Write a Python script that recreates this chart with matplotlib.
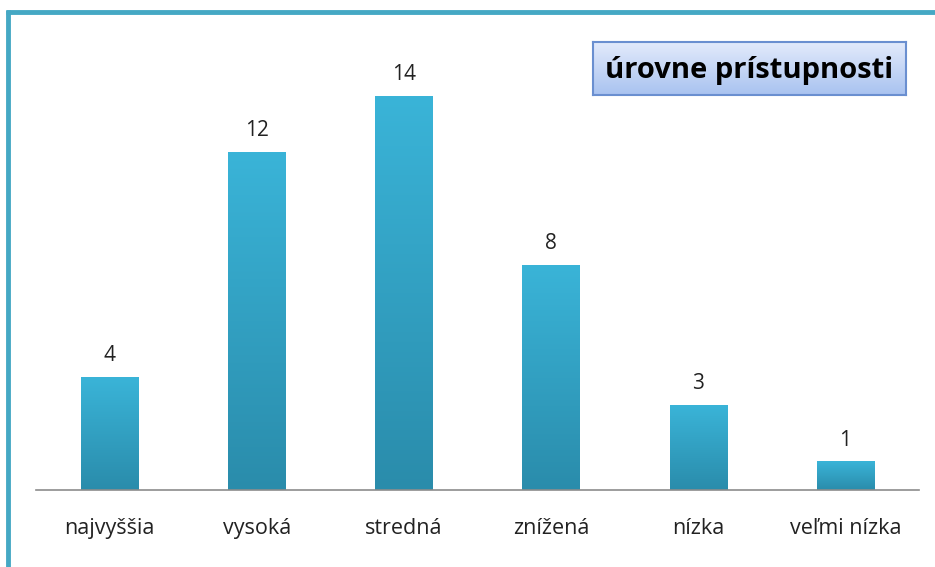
import numpy as np
import matplotlib
matplotlib.use('Agg')
import matplotlib.pyplot as plt
import matplotlib.patches as patches
from matplotlib.colors import LinearSegmentedColormap

categories = ['najvyššia', 'vysoká', 'stredná', 'znížená', 'nízka', 'veľmi nízka']
values = [4, 12, 14, 8, 3, 1]
title = 'úrovne prístupnosti'

plt.rcParams['font.family'] = ['Open Sans', 'DejaVu Sans']

fig = plt.figure(figsize=(9.35, 5.67), dpi=100)
fig.patch.set_facecolor('white')

# ram okolo grafu (len vlavo a hore)
fig.add_artist(plt.Line2D([8/935, 8/935], [0, 1 - 10/567], color='#45a8c4', lw=3.5,
                          transform=fig.transFigure, solid_capstyle='butt'))
fig.add_artist(plt.Line2D([6/935, 1], [1 - 12/567, 1 - 12/567], color='#45a8c4', lw=3.5,
                          transform=fig.transFigure, solid_capstyle='butt'))

ax = fig.add_axes([36/935, 77/567, 883/935, 450/567])
ax.set_xlim(-0.5, len(categories) - 0.5)
ax.set_ylim(0, 16)
for s in ['top', 'right', 'left']:
    ax.spines[s].set_visible(False)
ax.spines['bottom'].set_color('#8c8c8c')
ax.spines['bottom'].set_linewidth(1.2)
ax.set_yticks([])
ax.set_xticks(range(len(categories)))
ax.set_xticklabels(categories, fontsize=15.5, color='#222222')
ax.tick_params(axis='x', length=0, pad=20)

cmap = LinearSegmentedColormap.from_list('bar', ['#2a8cab', '#3ab4d8'])
grad = np.linspace(0, 1, 256).reshape(-1, 1)
width = 0.39
bars = ax.bar(range(len(values)), values, width=width, color='none')
for b, v in zip(bars, values):
    x0 = b.get_x()
    ax.imshow(grad, cmap=cmap, aspect='auto', origin='lower',
              extent=[x0, x0 + width, 0, v], zorder=2)
    ax.text(b.get_x() + width / 2, v + 0.4, str(v), ha='center', va='bottom',
            fontsize=15, color='#222222')
ax.set_xlim(-0.5, len(categories) - 0.5)
ax.set_ylim(0, 16)

# nadpis v ramceku
tx, ty, tw, th = 593/935, 1 - 95/567, 313/935, 53/567
shadow = patches.Rectangle((tx + 3/935, ty - 4/567), tw, th, transform=fig.transFigure,
                           facecolor='#d8d8d8', edgecolor='none', zorder=-1)
fig.add_artist(shadow)
tax = fig.add_axes([tx, ty, tw, th])
tax.imshow(np.linspace(0, 1, 64).reshape(-1, 1), origin='lower', aspect='auto',
           cmap=LinearSegmentedColormap.from_list('t', ['#a9c3f0', '#e2eafb']),
           extent=[0, 1, 0, 1])
tax.set_xticks([])
tax.set_yticks([])
for s in tax.spines.values():
    s.set_color('#6a8fd0')
    s.set_linewidth(1.5)
tax.text(0.5, 0.47, title, ha='center', va='center', fontsize=21, fontweight='bold',
         color='black', transform=tax.transAxes)

fig.savefig('out.png', dpi=100)
